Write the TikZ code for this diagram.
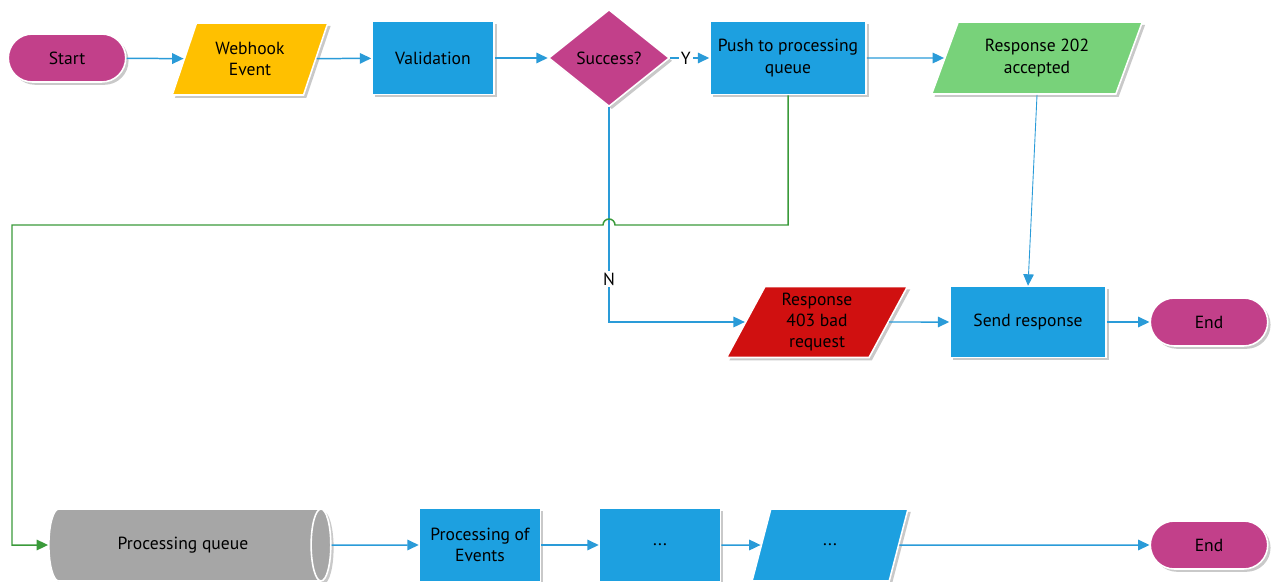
\documentclass[tikz,border=0pt]{standalone}
\usepackage{fontspec}
\setmainfont{PT Sans}
\usetikzlibrary{shapes.geometric,shapes.misc,shadows,arrows.meta}

\definecolor{termcol}{RGB}{194,64,138}
\definecolor{proccol}{RGB}{29,160,224}
\definecolor{eventcol}{RGB}{255,192,0}
\definecolor{okcol}{RGB}{120,210,122}
\definecolor{badcol}{RGB}{208,16,16}
\definecolor{queuecol}{RGB}{166,166,166}
\definecolor{linecol}{RGB}{42,155,216}
\definecolor{loopcol}{RGB}{58,154,58}

\tikzset{
  box/.style={draw=white, line width=0.9pt, text=black, align=center, inner sep=1pt,
    font=\fontsize{10}{12}\selectfont,
    drop shadow={shadow xshift=1.6pt, shadow yshift=-1.6pt, opacity=0.3, fill=black!70}},
  term/.style={box, rounded rectangle, fill=termcol, minimum width=2.42cm, minimum height=0.96cm},
  proc/.style={box, rectangle, fill=proccol, minimum width=2.44cm, minimum height=1.46cm},
  io/.style={box, trapezium, trapezium left angle=66, trapezium right angle=114,
    trapezium stretches=true, minimum width=3.12cm, minimum height=1.44cm},
  decision/.style={box, diamond, fill=termcol, minimum width=2.42cm, minimum height=1.94cm},
  store/.style={box, cylinder, shape border rotate=0, aspect=1.0, fill=queuecol,
    minimum width=1.44cm, minimum height=5.64cm},
  flow/.style={draw=linecol, line width=0.85pt, -{Triangle[length=6.5pt,width=6pt]}},
  loopline/.style={draw=loopcol, line width=0.85pt, -{Triangle[length=6.5pt,width=6pt]}},
  yesno/.style={fill=white, inner sep=1pt, font=\fontsize{10}{12}\selectfont},
}

\begin{document}
\begin{tikzpicture}[x=0.02cm, y=-0.02cm]
        \useasboundingbox (0,0) rectangle (1280,581);

        % top row
        \node[term] (start) at (67,58) {Start};
        \node[io, fill=eventcol] (hook) at (250,59) {Webhook\\Event};
        \node[proc] (valid) at (433,58) {Validation};
        \node[decision] (ok) at (609,58) {Success?};
        \node[proc, minimum width=3.12cm] (push) at (788,58) {Push to processing\\queue};
        \node[io, fill=okcol, minimum width=4.22cm] (acc) at (1037,58) {Response 202\\accepted};

        % middle row
        \node[io, fill=badcol, minimum width=3.62cm, minimum height=1.42cm] (bad) at (817,322) {Response\\403 bad\\request};
        \node[proc, minimum width=3.12cm, minimum height=1.42cm] (send) at (1028,322) {Send response};
        \node[term] (endA) at (1209,322) {End};

        % bottom row
        \node[store] (queue) at (183,545) {Processing queue};
        \node[proc, minimum width=2.42cm] (work) at (480,545) {Processing of\\Events};
        \node[proc, minimum width=2.42cm] (more) at (660,545) {...};
        \node[io, fill=proccol, trapezium left angle=64, trapezium right angle=116] (moreio) at (830,545) {...};
        \node[term] (endB) at (1209,545) {End};

        %edges
        \path[flow] (start) -- (hook);
        \path[flow] (hook) -- (valid);
        \path[flow] (valid) -- (ok);
        \path[flow] (ok) -- node[yesno, pos=0.4] {Y} (push);
        \path[flow] (push) -- (acc);
        \path[flow, line width=0.5pt] (acc.south) -- (send.north);
        \path[flow] (ok.south) |- node[yesno, pos=0.4] {N} (bad.west);
        \path[flow] (bad) -- (send);
        \path[flow] (send) -- (endA);

        % queue loop, jumps over the N line
        \path[loopline] (push.south) -- (push.south |- 0,225)
            -- ([xshift=0.12cm]ok.south |- 0,225) arc[start angle=0, end angle=180, radius=0.12cm]
            -- (12,225) |- (queue.west);

        \path[flow] (queue) -- (work);
        \path[flow] (work) -- (more);
        \path[flow] (more) -- (moreio);
        \path[flow] (moreio) -- (endB);
\end{tikzpicture}
\end{document}
